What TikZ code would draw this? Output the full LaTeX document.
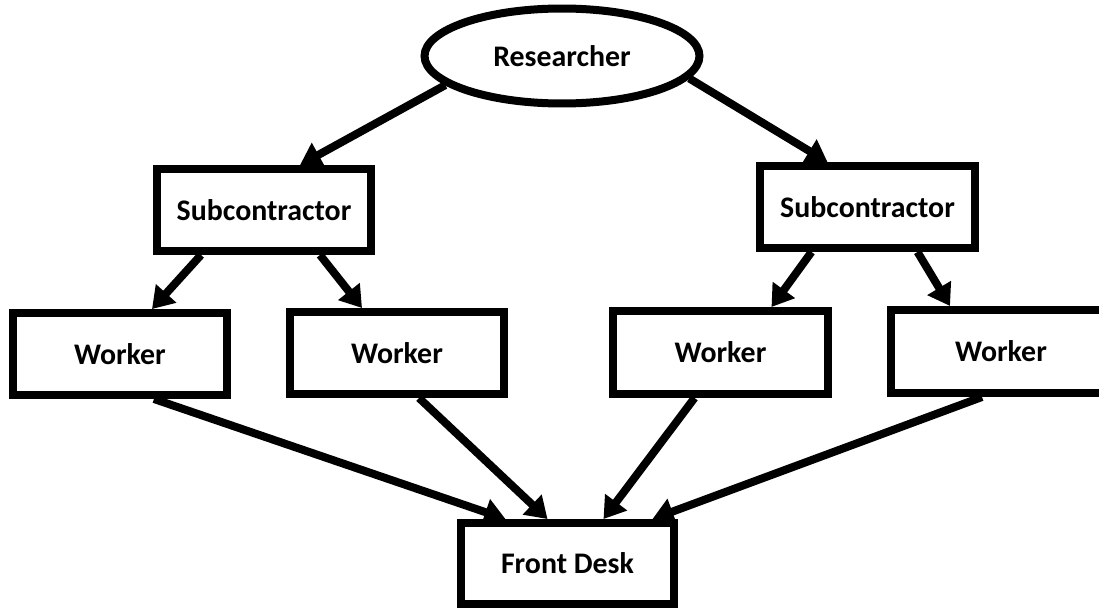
\documentclass[tikz,border=0pt]{standalone}
\usepackage{fontspec}
\setmainfont{Carlito}
\usepackage{tikz}
\usetikzlibrary{shapes.geometric, arrows.meta, calc}

\begin{document}
\begin{tikzpicture}[x=0.02cm, y=-0.02cm,
    box/.style={draw, line width=0.16cm, minimum width=4.28cm, minimum height=1.64cm, inner sep=0pt, font=\bfseries\fontsize{17}{20}\selectfont},
    arr/.style={line width=0.16cm, -{Triangle[length=12pt, width=15pt]}}]
  \useasboundingbox (0,0) rectangle (1099,608);

  % Top
  \node[box, ellipse, minimum width=5.5cm, minimum height=1.9cm] (res) at (562, 56) {Researcher};

  % Subcontractors
  \node[box] (subL) at (264, 210) {Subcontractor};
  \node[box, minimum width=4.3cm] (subR) at (867.5, 207) {Subcontractor};

  % Workers
  \node[box] (w1) at (120, 354) {Worker};
  \node[box] (w2) at (397, 353) {Worker};
  \node[box, minimum width=4.3cm, minimum height=1.66cm] (w3) at (720.5, 352.5) {Worker};
  \node[box, minimum width=4.4cm, minimum height=1.66cm] (w4) at (1001, 351.5) {Worker};

  % Bottom
  \node[box, minimum width=4.26cm, minimum height=1.62cm] (fd) at (567.5, 563.5) {Front Desk};

  % Arrows
  \draw[arr] (res.194) -- ($(subL.north)+(36,0)$);
  \draw[arr] (res.350) -- ($(subR.north)+(-40,0)$);
  \draw[arr] ($(subL.south)+(-63,0)$) -- ($(w1.north)+(32,0)$);
  \draw[arr] ($(subL.south)+(56,0)$) -- ($(w2.north)+(-35,0)$);
  \draw[arr] ($(subR.south)+(-56,0)$) -- ($(w3.north)+(51,0)$);
  \draw[arr] ($(subR.south)+(50,0)$) -- ($(w4.north)+(-51,0)$);
  \draw[arr] ($(w1.south)+(34,0)$) -- ($(fd.north)+(-62,0)$);
  \draw[arr] ($(w2.south)+(22,0)$) -- ($(fd.north)+(-20,0)$);
  \draw[arr] ($(w3.south)+(-26,0)$) -- ($(fd.north)+(36,0)$);
  \draw[arr] ($(w4.south)+(-19,0)$) -- ($(fd.north)+(85,0)$);
\end{tikzpicture}
\end{document}
